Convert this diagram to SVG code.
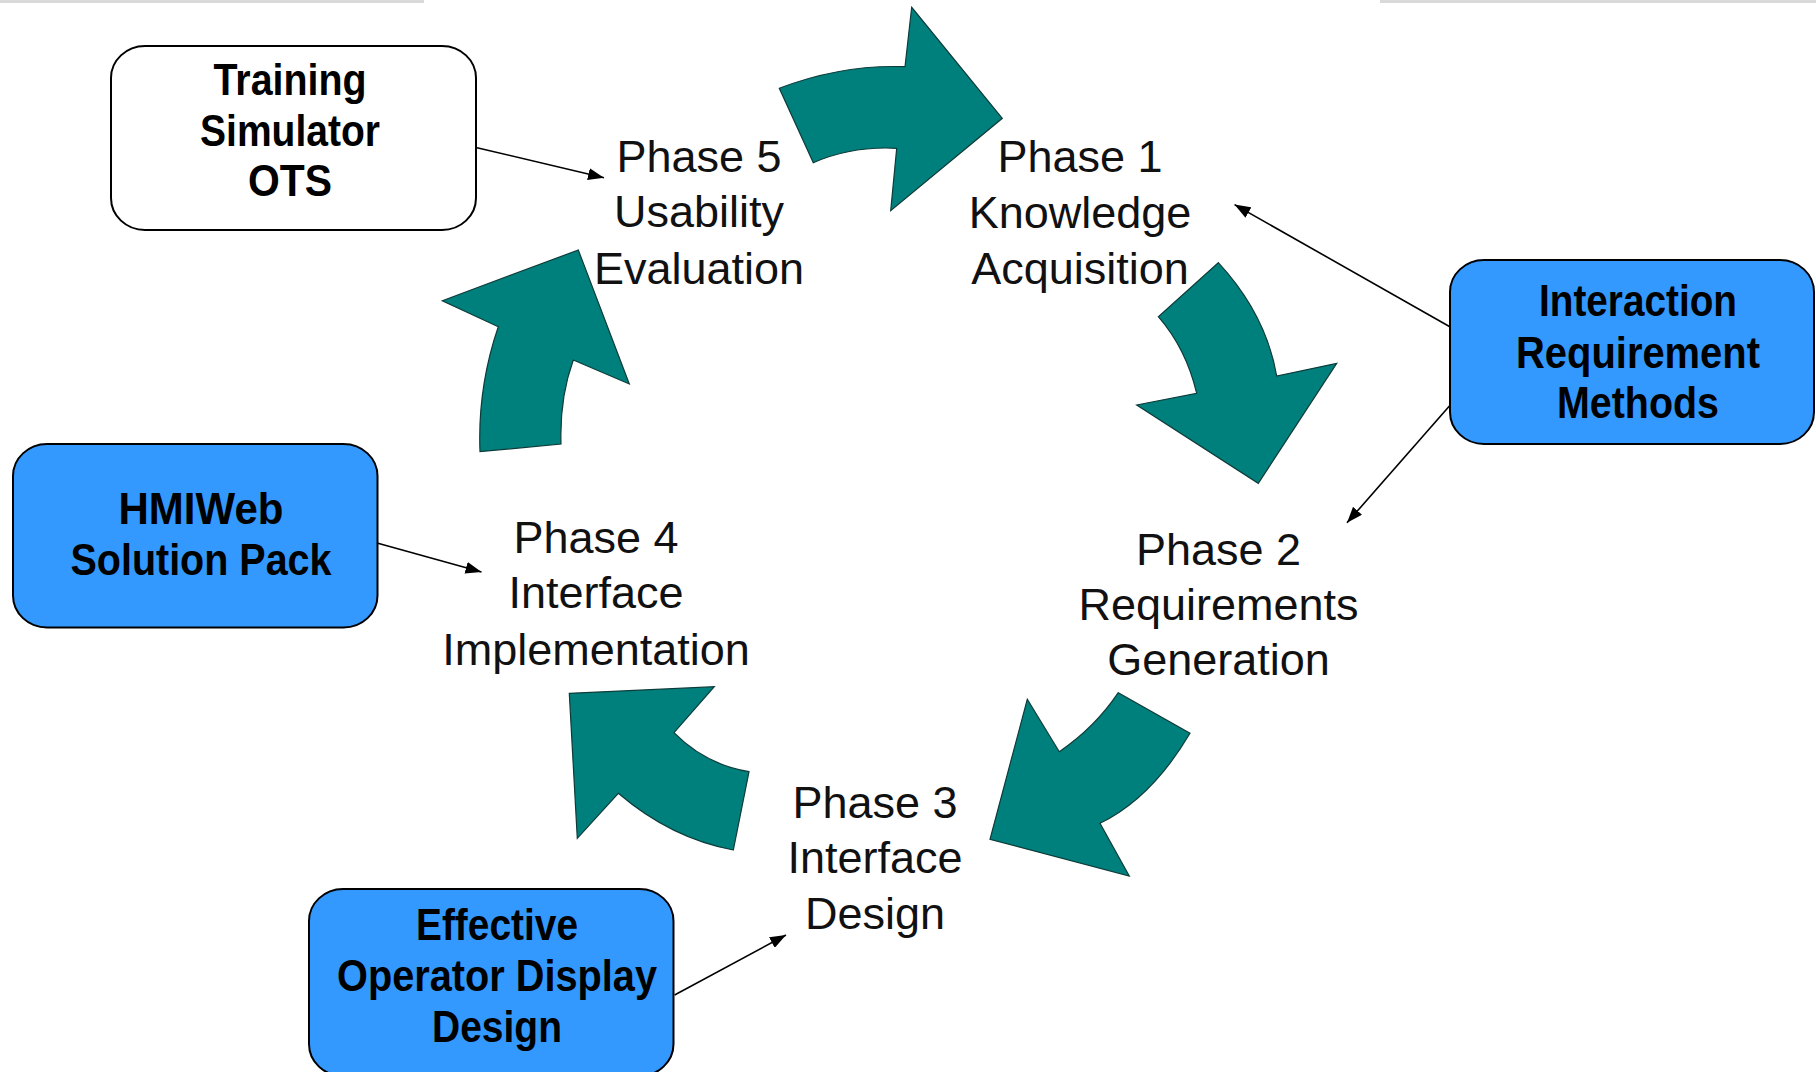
<svg xmlns="http://www.w3.org/2000/svg" width="1816" height="1072" viewBox="0 0 1816 1072">
  <style>
    .phase { font-family: "Liberation Sans", Arial, sans-serif; font-size: 45px; fill: #111; text-anchor: middle; }
    .boxtext { font-family: "Liberation Sans", Arial, sans-serif; font-size: 44px; font-weight: bold; fill: #000; text-anchor: middle; }
    .cycle { fill: #00807c; stroke: #0d3b39; stroke-width: 1.2; stroke-linejoin: miter; }
    .tool { stroke: #000; stroke-width: 2; }
    .tool-blue { fill: #3399ff; }
    .tool-white { fill: #ffffff; }
    .link { stroke: #000; stroke-width: 1.6; fill: none; marker-end: url(#head); }
  </style>
  <defs>
    <marker id="head" viewBox="0 0 16 12" refX="16" refY="6" markerWidth="16" markerHeight="12" markerUnits="userSpaceOnUse" orient="auto">
      <path d="M0,0 L16,6 L0,12 z" fill="#000"/>
    </marker>
  </defs>

  <rect width="1816" height="1072" fill="#ffffff"/>
  <!-- thin grey rules along the top edge -->
  <rect x="0" y="0" width="424" height="3" fill="#d9d9d9"/>
  <rect x="1380" y="0" width="436" height="3" fill="#d9d9d9"/>

  <!-- curved cycle arrows -->
  <g id="cycle-arrows">
    <path id="arrow-5-1" class="cycle" d="M779.3,88.3 Q841.2,64.5 905,66.7 L911.7,7.3 L1002.3,118.3 L890.7,210.7 L896.7,148.3 Q851.6,145.9 813.3,162.7 Z"/>
    <path id="arrow-1-2" class="cycle" d="M1218.3,262.7 L1158.3,316.7 Q1185.9,348.4 1196.7,393.3 L1136.7,405 L1258.3,483.3 L1336.7,363.3 L1276.7,376 Q1265.9,314.1 1218.3,262.7 Z"/>
    <path id="arrow-2-3" class="cycle" d="M1118.3,692.7 L1190,733.3 Q1151.6,798.3 1100,823.3 L1129.3,876 L990,839.3 L1027.3,699.3 L1059.3,751.7 Q1094.6,727.8 1118.3,692.7 Z"/>
    <path id="arrow-3-4" class="cycle" d="M569.3,693.3 L714.3,686.7 L674,732.7 Q705.1,764.4 749,771.7 L733.3,850 Q670.8,838.3 618.3,793.3 L577.3,838.3 Z"/>
    <path id="arrow-4-5" class="cycle" d="M442.3,300.7 L578.3,250 L629.3,384 L573.3,360 Q559.5,398 561,444 L480,451.7 Q477.5,387.5 498.3,326.7 Z"/>
  </g>

  <!-- phase labels -->
  <g id="phase1">
    <text class="phase" x="1080" y="172">Phase 1</text>
    <text class="phase" x="1080" y="227.5">Knowledge</text>
    <text class="phase" x="1080" y="283.5">Acquisition</text>
  </g>
  <g id="phase2">
    <text class="phase" x="1218.5" y="564.5">Phase 2</text>
    <text class="phase" x="1218.5" y="619.5">Requirements</text>
    <text class="phase" x="1218.5" y="674.5">Generation</text>
  </g>
  <g id="phase3">
    <text class="phase" x="875" y="818">Phase 3</text>
    <text class="phase" x="875" y="873">Interface</text>
    <text class="phase" x="875" y="929">Design</text>
  </g>
  <g id="phase4">
    <text class="phase" x="596" y="553">Phase 4</text>
    <text class="phase" x="596" y="608">Interface</text>
    <text class="phase" x="596" y="665">Implementation</text>
  </g>
  <g id="phase5">
    <text class="phase" x="699" y="171.5">Phase 5</text>
    <text class="phase" x="699" y="227">Usability</text>
    <text class="phase" x="699" y="283.5">Evaluation</text>
  </g>

  <!-- supporting tools -->
  <g id="training-simulator">
    <rect class="tool tool-white" x="111" y="46" width="365" height="184" rx="34" ry="32"/>
    <text class="boxtext" x="290" y="94.5" textLength="153" lengthAdjust="spacingAndGlyphs">Training</text>
    <text class="boxtext" x="290" y="145.5" textLength="180" lengthAdjust="spacingAndGlyphs">Simulator</text>
    <text class="boxtext" x="290" y="196" textLength="84" lengthAdjust="spacingAndGlyphs">OTS</text>
  </g>
  <g id="interaction-requirement">
    <rect class="tool tool-blue" x="1450" y="260" width="364" height="184" rx="34" ry="32"/>
    <text class="boxtext" x="1638" y="316" textLength="198" lengthAdjust="spacingAndGlyphs">Interaction</text>
    <text class="boxtext" x="1638" y="367.5" textLength="244" lengthAdjust="spacingAndGlyphs">Requirement</text>
    <text class="boxtext" x="1638" y="418" textLength="162" lengthAdjust="spacingAndGlyphs">Methods</text>
  </g>
  <g id="hmiweb">
    <rect class="tool tool-blue" x="13" y="444" width="364.5" height="183.5" rx="34" ry="32"/>
    <text class="boxtext" x="201" y="523.5" textLength="165" lengthAdjust="spacingAndGlyphs">HMIWeb</text>
    <text class="boxtext" x="201" y="575" textLength="261" lengthAdjust="spacingAndGlyphs">Solution Pack</text>
  </g>
  <g id="operator-display">
    <rect class="tool tool-blue" x="309" y="889" width="364.5" height="187" rx="34" ry="32"/>
    <text class="boxtext" x="497" y="939.5" textLength="162" lengthAdjust="spacingAndGlyphs">Effective</text>
    <text class="boxtext" x="497" y="990.5" textLength="320" lengthAdjust="spacingAndGlyphs">Operator Display</text>
    <text class="boxtext" x="497" y="1041.5" textLength="130" lengthAdjust="spacingAndGlyphs">Design</text>
  </g>

  <!-- connectors from tools to phases -->
  <g id="connectors">
    <line class="link" x1="477" y1="147.7" x2="604" y2="177.8"/>
    <line class="link" x1="1449.4" y1="326.5" x2="1234.5" y2="204.6"/>
    <line class="link" x1="1449.4" y1="406" x2="1347" y2="522.8"/>
    <line class="link" x1="377" y1="543" x2="481.5" y2="572"/>
    <line class="link" x1="674.6" y1="995" x2="786" y2="935"/>
  </g>
</svg>
